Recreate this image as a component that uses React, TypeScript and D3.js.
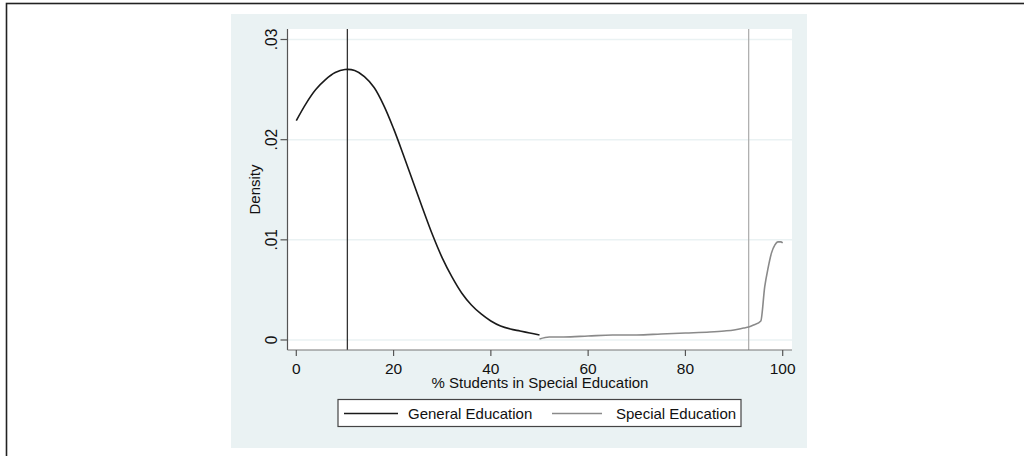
import React from "react";
import * as d3 from "d3";

// kernel density, general education students (x = % in special ed)
const generalX = [0, 2, 4, 6, 8, 10, 12, 14, 16, 18, 20, 22, 24, 26, 28, 30, 32, 34, 36, 38, 40, 42, 44, 46, 48, 50];
const generalY = [
  0.0219, 0.0236, 0.025, 0.026, 0.0267, 0.027, 0.0269, 0.0263, 0.0252, 0.0234, 0.0211, 0.0185, 0.0158,
  0.0131, 0.0105, 0.0082, 0.0063, 0.0047, 0.0035, 0.0026, 0.0019, 0.0014, 0.0011, 0.0009, 0.0007, 0.0005,
];

// kernel density, special education students
const specialX = [50, 52, 55, 60, 65, 70, 75, 80, 85, 88, 90, 92, 93, 94, 95.5, 96.3, 97, 97.7, 98.4, 99, 99.6, 100];
const specialY = [
  0.0001, 0.0003, 0.0003, 0.0004, 0.0005, 0.0005, 0.0006, 0.0007, 0.0008, 0.0009, 0.001, 0.0012, 0.0013,
  0.0015, 0.0019, 0.0053, 0.0072, 0.0087, 0.0095, 0.0098, 0.0098, 0.0097,
];

// means shown as vertical reference lines
const generalMean = 10.5;
const specialMean = 93;

const xTicks = [0, 20, 40, 60, 80, 100];
const yTicks = [0, 0.01, 0.02, 0.03];
const yTickLabels = ["0", ".01", ".02", ".03"];

const legendLabels = ["General Education", "Special Education"];

const W = 1024;
const H = 456;
const font = "'Liberation Sans', Arial, sans-serif";

export default function App() {
  const plotLeft = 287.5;
  const plotRight = 792;
  const plotTop = 29;
  const plotBottom = 350;

  const x = d3.scaleLinear().domain([0, 100]).range([296.3, 782.7]);
  const y = d3.scaleLinear().domain([0, 0.03]).range([340, 39.5]);

  const smoothLine = d3
    .line<[number, number]>()
    .x((d) => x(d[0]))
    .y((d) => y(d[1]))
    .curve(d3.curveCatmullRom.alpha(0.5));

  const stepLine = d3
    .line<[number, number]>()
    .x((d) => x(d[0]))
    .y((d) => y(d[1]))
    .curve(d3.curveMonotoneX);

  const generalPts = generalX.map((v, i) => [v, generalY[i]] as [number, number]);
  const specialPts = specialX.map((v, i) => [v, specialY[i]] as [number, number]);

  return (
    <svg
      width={W}
      height={H}
      style={{ position: "absolute", left: 0, top: 0, background: "#fff" }}
      fontFamily={font}
    >
      {/* outer frame */}
      <rect x={6.5} y={3.5} width={W + 20} height={H + 20} fill="none" stroke="#222" strokeWidth={1.6} />

      {/* graph region */}
      <rect x={231} y={14} width={576} height={434} fill="#eaf2f3" />
      <rect x={plotLeft} y={plotTop} width={plotRight - plotLeft} height={plotBottom - plotTop} fill="#fff" />

      {/* gridlines */}
      {yTicks.map((t) => (
        <line key={t} x1={plotLeft} x2={plotRight} y1={y(t)} y2={y(t)} stroke="#eaf2f3" strokeWidth={1.5} />
      ))}

      {/* mean lines */}
      <line x1={x(generalMean)} x2={x(generalMean)} y1={plotTop} y2={plotBottom} stroke="#333" strokeWidth={1.3} />
      <line x1={x(specialMean)} x2={x(specialMean)} y1={plotTop} y2={plotBottom} stroke="#b0b0b0" strokeWidth={1.3} />

      {/* densities */}
      <path d={smoothLine(generalPts) || ""} fill="none" stroke="#1a1a1a" strokeWidth={1.6} />
      <path d={stepLine(specialPts) || ""} fill="none" stroke="#8a8a8a" strokeWidth={1.6} />

      {/* y axis */}
      <line x1={plotLeft} x2={plotLeft} y1={plotTop} y2={plotBottom} stroke="#555" strokeWidth={1.2} />
      {yTicks.map((t, i) => (
        <g key={t}>
          <line x1={plotLeft - 7} x2={plotLeft} y1={y(t)} y2={y(t)} stroke="#555" strokeWidth={1.2} />
          <text
            transform={`translate(277,${y(t)}) rotate(-90) scale(1,1.05)`}
            textAnchor="middle"
            fontSize={15.5}
            fill="#111"
          >
            {yTickLabels[i]}
          </text>
        </g>
      ))}
      <text transform={`translate(260,${(plotTop + plotBottom) / 2}) rotate(-90)`} textAnchor="middle" fontSize={15} fill="#111">
        Density
      </text>

      {/* x axis */}
      <line x1={plotLeft} x2={plotRight} y1={plotBottom} y2={plotBottom} stroke="#777" strokeWidth={1.2} />
      {xTicks.map((t) => (
        <g key={t}>
          <line x1={x(t)} x2={x(t)} y1={plotBottom} y2={plotBottom + 6} stroke="#555" strokeWidth={1.2} />
          <text x={x(t)} y={374} textAnchor="middle" fontSize={15.5} fill="#111">
            {t}
          </text>
        </g>
      ))}
      <text x={540} y={388} textAnchor="middle" fontSize={15} fill="#111">
        % Students in Special Education
      </text>

      {/* legend */}
      <rect x={338} y={399.5} width={403} height={27} fill="#fff" stroke="#444" strokeWidth={1.2} />
      <line x1={344} x2={398} y1={413.5} y2={413.5} stroke="#1a1a1a" strokeWidth={1.6} />
      <text x={408} y={419} fontSize={15} fill="#111">
        {legendLabels[0]}
      </text>
      <line x1={552} x2={602} y1={413.5} y2={413.5} stroke="#8a8a8a" strokeWidth={1.6} />
      <text x={616} y={419} fontSize={15} fill="#111">
        {legendLabels[1]}
      </text>
    </svg>
  );
}
